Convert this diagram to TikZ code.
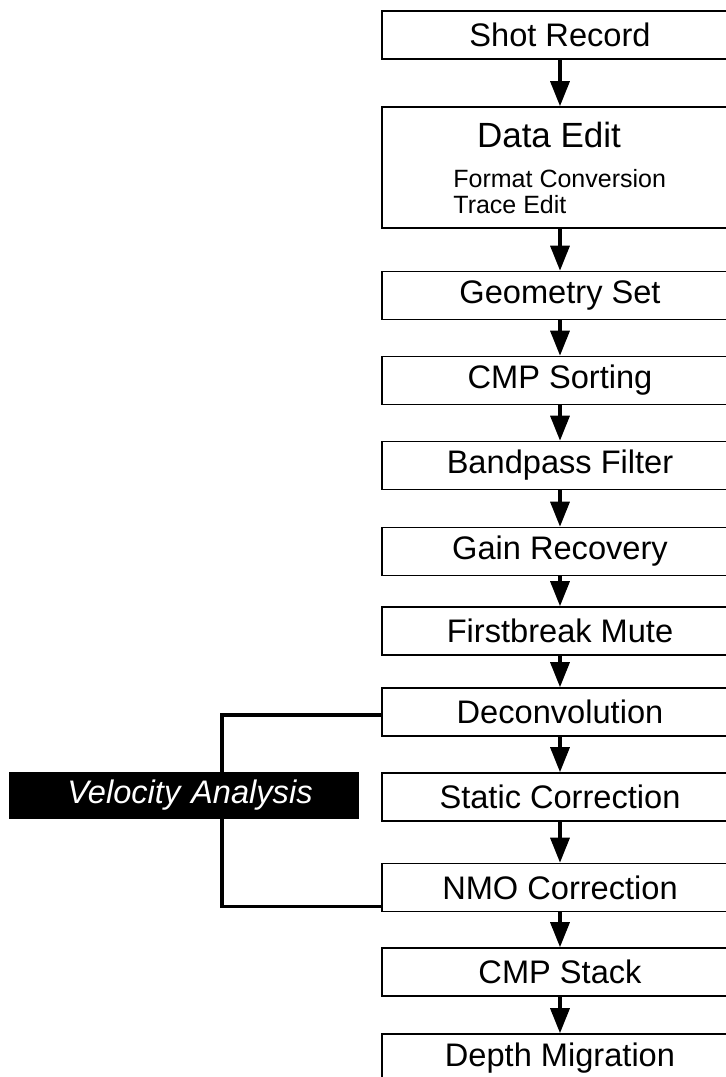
\documentclass[tikz,border=0pt]{standalone}
\usepackage{fontspec}
\setmainfont{Liberation Sans}
\usetikzlibrary{arrows.meta, positioning}
\tikzset{
  stage/.style={
    draw=black,
    line width=0.8pt,
    fill=white,
    minimum width=178pt,
    minimum height=24pt,
    inner sep=0pt,
    font=\fontsize{16.3}{19}\selectfont
  },
  velo/.style={
    fill=black,
    text=white,
    minimum width=175pt,
    minimum height=23.5pt,
    inner sep=0pt,
    font=\fontsize{16.3}{19}\selectfont\itshape
  },
  substep/.style={
    inner sep=0pt,
    font=\fontsize{12.5}{15}\selectfont
  },
  link/.style={
    draw=black,
    line width=1.6pt
  },
  every edge/.style={
    draw=black,
    line width=1.7pt,
    -{Triangle[length=12.5pt, width=9.5pt]}
  }
}
\begin{document}
\begin{tikzpicture}[x=0.5pt, y=-0.5pt]
  \useasboundingbox (0,0) rectangle (726,1077);
  \clip (0,0) rectangle (726,1077);
  \node[stage] (shot) at (560, 35) {Shot Record};
  \node[stage, minimum height=60.5pt] (edit) at (560, 167.5) {};
  \node[substep, font=\fontsize{17.5}{21}\selectfont, anchor=base] (edittitle) at (549, 147) {Data Edit};
  \node[substep, anchor=base west] (format) at (453, 187) {Format Conversion};
  \node[substep, anchor=base west] (trace) at (453, 213) {Trace Edit};
  \node[stage] (geom) at (560, 295.5) {Geometry Set};
  \node[stage] (sort) at (560, 380.5) {CMP Sorting};
  \node[stage] (band) at (560, 465.5) {Bandpass Filter};
  \node[stage] (gain) at (560, 551.5) {Gain Recovery};
  \node[stage] (mute) at (560, 631) {Firstbreak Mute};
  \node[stage] (decon) at (560, 712) {Deconvolution};
  \node[stage] (static) at (560, 797) {Static Correction};
  \node[stage] (nmo) at (560, 887.5) {NMO Correction};
  \node[stage] (stack) at (560, 972) {CMP Stack};
  \node[stage] (migr) at (560, 1058) {Depth Migration};

  \node[velo, text width=175pt, align=center] (vel) at (184, 795.5) {\hspace*{6pt}Velocity Analysis};

  \path (shot) edge (edit)
        (edit) edge (geom)
        (geom) edge (sort)
        (sort) edge (band)
        (band) edge (gain)
        (gain) edge (mute)
        (mute) edge (decon)
        (decon) edge (static)
        (static) edge (nmo)
        (nmo) edge (stack)
        (stack) edge (migr);

  \draw[link] ([yshift=-1.5pt]decon.west) -| ([xshift=19pt]vel.north);
  \draw[link] ([xshift=19pt]vel.south) |- ([yshift=3pt]nmo.south west);
\end{tikzpicture}
\end{document}
